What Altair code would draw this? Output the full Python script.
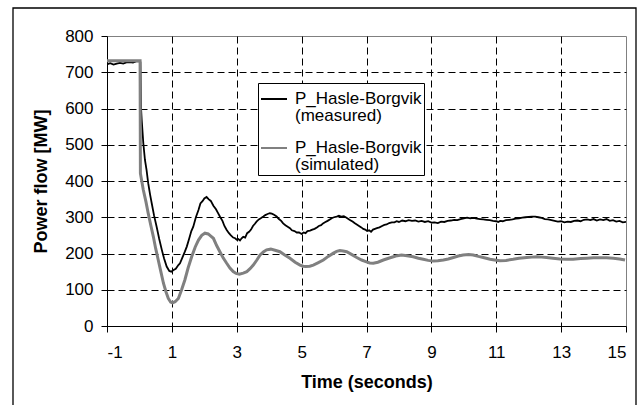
import altair as alt
import pandas as pd

# ---- data ----
t_meas = [-1.0, -0.9, -0.8, -0.7, -0.6, -0.5, -0.4, -0.3, -0.2, -0.1, 0.0, 0.03, 0.05, 0.07,
          0.12, 0.17, 0.22, 0.27, 0.33, 0.38, 0.45, 0.53, 0.61, 0.69, 0.76, 0.84, 0.92, 0.98,
          1.04, 1.12, 1.2, 1.25, 1.33, 1.4, 1.46, 1.53, 1.6, 1.66, 1.74, 1.82, 1.88, 1.95,
          2.0, 2.07, 2.13, 2.2, 2.28, 2.36, 2.42, 2.48, 2.56, 2.62, 2.69, 2.76, 2.82, 2.89,
          2.95, 3.0, 3.05, 3.1, 3.15, 3.2, 3.26, 3.32, 3.38, 3.44, 3.5, 3.56, 3.61, 3.68,
          3.74, 3.82, 3.88, 3.95, 4.02, 4.08, 4.15, 4.23, 4.3, 4.37, 4.43, 4.5, 4.57, 4.64,
          4.7, 4.78, 4.85, 4.92, 5.0, 5.06, 5.12, 5.18, 5.26, 5.33, 5.4, 5.47, 5.53, 5.6,
          5.66, 5.72, 5.8, 5.87, 5.94, 6.0, 6.08, 6.15, 6.22, 6.3, 6.36, 6.43, 6.5, 6.57,
          6.63, 6.7, 6.77, 6.84, 6.9, 6.96, 7.02, 7.08, 7.14, 7.2, 7.26, 7.32, 7.4, 7.48,
          7.55, 7.62, 7.7, 7.78, 7.86, 7.93, 8.0, 8.1, 8.2, 8.3, 8.4, 8.5, 8.6, 8.7, 8.8,
          8.9, 9.0, 9.1, 9.2, 9.3, 9.4, 9.5, 9.6, 9.7, 9.8, 9.9, 10.0, 10.1, 10.2, 10.3,
          10.4, 10.5, 10.6, 10.7, 10.8, 10.9, 11.0, 11.06, 11.12, 11.2, 11.3, 11.4, 11.5,
          11.6, 11.7, 11.8, 11.9, 12.0, 12.1, 12.2, 12.3, 12.4, 12.5, 12.6, 12.7, 12.8,
          12.9, 13.0, 13.1, 13.2, 13.3, 13.4, 13.5, 13.6, 13.7, 13.8, 13.9, 14.0, 14.1,
          14.2, 14.3, 14.4, 14.5, 14.6, 14.7, 14.8, 14.9, 15.0]
p_meas = [722, 725, 721, 724, 726, 724, 727, 728, 727, 730, 731, 728, 600, 568,
          504, 458, 430, 394, 362, 338, 305, 274, 240, 210, 186, 164, 152, 150,
          154, 158, 168, 173, 190, 205, 219, 240, 262, 274, 300, 320, 338, 345,
          352, 356, 350, 345, 332, 322, 312, 302, 290, 276, 265, 256, 250, 244,
          242, 238, 240, 236, 242, 246, 244, 256, 260, 266, 276, 282, 288, 294,
          297, 302, 306, 309, 311, 310, 307, 302, 295, 290, 283, 278, 274, 270,
          264, 262, 258, 258, 254, 258, 256, 262, 263, 266, 268, 272, 276, 278,
          283, 286, 290, 294, 298, 300, 302, 304, 302, 303, 300, 296, 292, 288,
          284, 280, 276, 272, 268, 266, 262, 264, 260, 266, 268, 270, 272, 276,
          279, 280, 284, 286, 286, 289, 287, 291, 289, 292, 290, 291, 288, 290, 287,
          289, 285, 286, 284, 288, 287, 290, 291, 293, 292, 295, 297, 299, 297, 298,
          296, 295, 294, 293, 292, 290, 289, 287, 290, 289, 292, 293, 294,
          296, 297, 299, 300, 301, 302, 302, 300, 298, 295, 294, 292, 290,
          288, 289, 286, 288, 287, 290, 291, 289, 293, 294, 292, 295, 291,
          294, 292, 295, 290, 292, 288, 290, 286, 287]

t_sim = [-1.0, 0.0, 0.02, 0.03, 0.12, 0.2, 0.27, 0.35, 0.43, 0.5, 0.58, 0.66, 0.74, 0.82,
         0.89, 0.96, 1.02, 1.1, 1.2, 1.3, 1.4, 1.5, 1.61, 1.72, 1.82, 1.92, 2.02, 2.12,
         2.2, 2.28, 2.38, 2.48, 2.58, 2.69, 2.79, 2.89, 2.98, 3.08, 3.2, 3.31, 3.41, 3.51,
         3.62, 3.72, 3.82, 3.92, 4.05, 4.18, 4.33, 4.48, 4.64, 4.8, 4.95, 5.05, 5.13, 5.25,
         5.36, 5.5, 5.67, 5.82, 5.98, 6.08, 6.18, 6.28, 6.39, 6.55, 6.7, 6.85, 7.0, 7.1,
         7.21, 7.35, 7.52, 7.68, 7.83, 7.95, 8.08, 8.25, 8.44, 8.6, 8.75, 8.9, 9.06, 9.2,
         9.37, 9.52, 9.68, 9.83, 9.98, 10.15, 10.29, 10.45, 10.6, 10.81, 10.95, 11.11,
         11.3, 11.52, 11.7, 11.94, 12.1, 12.25, 12.4, 12.55, 12.75, 12.96, 13.15, 13.37,
         13.6, 13.79, 14.0, 14.2, 14.4, 14.61, 14.8, 14.97]
p_sim = [732, 732, 732, 421, 375, 343, 311, 278, 246, 214, 182, 150, 118, 94,
         76, 66, 64, 67, 76, 100, 127, 160, 191, 218, 237, 250, 256, 254,
         248, 242, 222, 205, 188, 173, 160, 150, 145, 143, 146, 150, 158, 168,
         182, 196, 204, 210, 212, 209, 205, 196, 187, 176, 168, 165, 164, 165,
         168, 174, 182, 192, 201, 206, 208, 207, 205, 197, 189, 182, 177, 174,
         173, 176, 182, 187, 191, 194, 196, 194, 191, 187, 184, 181, 179, 180,
         182, 185, 189, 193, 196, 197, 196, 192, 189, 184, 182, 180,
         181, 184, 187, 189, 190, 191, 190, 189, 187, 185, 184, 184,
         186, 187, 188, 188, 188, 187, 185, 182]

series_names = ["P_Hasle-Borgvik|(measured)", "P_Hasle-Borgvik|(simulated)"]
series_colors = ["#000000", "#808080"]
x_ticks = [-1, 1, 3, 5, 7, 9, 11, 13, 15]
y_ticks = [0, 100, 200, 300, 400, 500, 600, 700, 800]

df = pd.concat([
    pd.DataFrame({"t": t_meas, "p": p_meas, "series": series_names[0], "w": 1.8}),
    pd.DataFrame({"t": t_sim, "p": p_sim, "series": series_names[1], "w": 3.0}),
], ignore_index=True)

FONT = "Liberation Sans"

lines = alt.Chart(df).mark_line(clip=True).encode(
    x=alt.X("t:Q",
            scale=alt.Scale(domain=[-1, 15], nice=False, zero=False),
            axis=alt.Axis(values=x_ticks, title="Time (seconds)", tickSize=6,
                          labelPadding=12, titlePadding=13,
                          labelExpr="'' + datum.value",
                          gridOpacity={"condition": {"test": "datum.value == -1 || datum.value == 15", "value": 0}, "value": 1})),
    y=alt.Y("p:Q",
            scale=alt.Scale(domain=[0, 800], nice=False),
            axis=alt.Axis(values=y_ticks, title="Power flow [MW]", tickSize=6,
                          labelPadding=8, titlePadding=14,
                          gridOpacity={"condition": {"test": "datum.value == 0 || datum.value == 800", "value": 0}, "value": 1})),
    color=alt.Color("series:N",
                    scale=alt.Scale(domain=series_names, range=series_colors),
                    legend=alt.Legend(
                        title=None, orient="none", legendX=151, legendY=47,
                        symbolType="stroke", symbolSize=676, symbolStrokeWidth=2,
                        labelExpr="split(datum.label, '|')",
                        labelFont=FONT, labelFontSize=17, labelColor="#000",
                        labelLimit=400, labelOffset=7,
                        rowPadding=10, padding=2,
                        strokeColor="#000", fillColor="#ffffff")),
    strokeWidth=alt.StrokeWidth("w:Q", scale=None, legend=None),
)

frame = alt.Chart(pd.DataFrame({"k": [0]})).mark_rect(
    fill=None, stroke="#000", strokeWidth=1.3, clip=False
).encode(
    x=alt.value(-94), x2=alt.value(529), y=alt.value(-28), y2=alt.value(390)
)

chart = alt.layer(frame, lines).properties(
    width=519, height=290,
    autosize=alt.AutoSizeParams(type="none"),
    padding={"left": 107, "top": 36, "right": 16, "bottom": 79},
    background="#ffffff",
).configure(
    style={"guide-label": {"lineHeight": 16.5}}
).configure_view(
    stroke="#808080", strokeWidth=1
).configure_axis(
    labelFont=FONT, labelFontSize=17, labelColor="#000",
    titleFont=FONT, titleFontSize=18, titleFontWeight="bold", titleColor="#000",
    domainColor="#000", domainWidth=1, tickColor="#000", tickWidth=1,
    gridColor="#000", gridDash=[7, 4], gridWidth=1,
)

chart.save("out.html", embed_options={"renderer": "svg", "actions": False})
